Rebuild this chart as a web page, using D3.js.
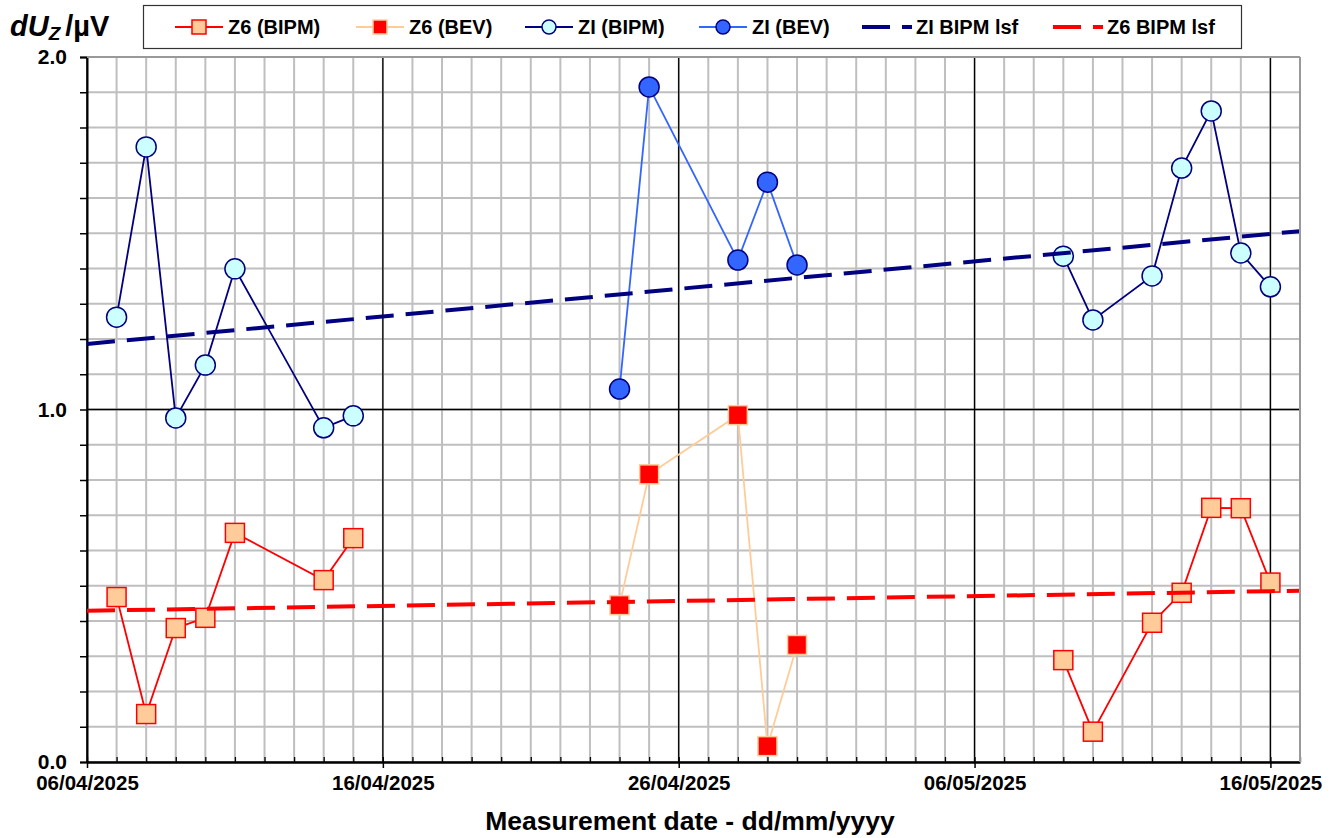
<!DOCTYPE html>
<html>
<head>
<meta charset="utf-8">
<script src="https://cdn.jsdelivr.net/npm/d3@7"></script>
<style>
  body { margin: 0; background: #fff; }
  text { font-family: "Liberation Sans", Arial, sans-serif; font-weight: bold; }
</style>
</head>
<body>
<div class="chart"></div>
<script>
let bipmDates = ['07/04/2025', '08/04/2025', '09/04/2025', '10/04/2025', '11/04/2025', '14/04/2025', '15/04/2025',
                 '09/05/2025', '10/05/2025', '12/05/2025', '13/05/2025', '14/05/2025', '15/05/2025', '16/05/2025']
let z6Bipm = [0.468, 0.136, 0.380, 0.409, 0.650, 0.516, 0.635, 0.289, 0.086, 0.395, 0.480, 0.721, 0.720, 0.509]
let ziBipm = [1.262, 1.745, 0.976, 1.126, 1.399, 0.948, 0.982, 1.435, 1.254, 1.379, 1.685, 1.847, 1.444, 1.348]

let bevDates = ['24/04/2025', '25/04/2025', '28/04/2025', '29/04/2025', '30/04/2025']
let z6Bev = [0.445, 0.816, 0.984, 0.045, 0.332]
let ziBev = [1.058, 1.915, 1.424, 1.645, 1.410]

// least squares fit lines (end points)
let lsfDates = ['06/04/2025', '17/05/2025']
let ziLsf = [1.186, 1.506]
let z6Lsf = [0.429, 0.486]

let xTickLabels = ['06/04/2025', '16/04/2025', '26/04/2025', '06/05/2025', '16/05/2025']
let yTickLabels = [0, 1, 2]

let width = 1342
let height = 838
let plotL = 87, plotR = 1300, plotT = 57, plotB = 762

let parse = d3.utcParse('%d/%m/%Y')

let xScale = d3.scaleUtc()
                .domain([parse('06/04/2025'), parse('17/05/2025')])
                .range([plotL, plotR])

let yScale = d3.scaleLinear()
                .domain([0, 2])
                .range([plotB, plotT])

let svg = d3.select('.chart')
            .append('svg')
            .attr('width', width)
            .attr('height', height)

let days = d3.utcDay.range(xScale.domain()[0], d3.utcDay.offset(xScale.domain()[1], 1))
let majorDays = xTickLabels.map(parse)
let yMinor = d3.range(0, 21).map(d => d / 10)

// minor grid
svg.append('g')
    .selectAll('line')
    .data(days)
    .enter()
    .append('line')
    .attr('x1', d => xScale(d)).attr('x2', d => xScale(d))
    .attr('y1', plotT).attr('y2', plotB)
    .attr('stroke', '#bfbfbf').attr('stroke-width', 2)

svg.append('g')
    .selectAll('line')
    .data(yMinor)
    .enter()
    .append('line')
    .attr('x1', plotL).attr('x2', plotR)
    .attr('y1', d => yScale(d)).attr('y2', d => yScale(d))
    .attr('stroke', '#bfbfbf').attr('stroke-width', 2)

// major grid
svg.append('g')
    .selectAll('line')
    .data(majorDays)
    .enter()
    .append('line')
    .attr('x1', d => xScale(d)).attr('x2', d => xScale(d))
    .attr('y1', plotT).attr('y2', plotB)
    .attr('stroke', '#000').attr('stroke-width', 1.3)

svg.append('line')
    .attr('x1', plotL).attr('x2', plotR)
    .attr('y1', yScale(1)).attr('y2', yScale(1))
    .attr('stroke', '#000').attr('stroke-width', 1.3)

// axes
let yAxis = d3.axisLeft(yScale)
                .tickValues(yMinor)
                .tickSize(7)
                .tickPadding(13)
                .tickFormat(d => yTickLabels.includes(Math.round(d * 10) / 10) ? d3.format('.1f')(d) : '')

let gy = svg.append('g')
    .attr('transform', `translate(${plotL},0)`)
    .call(yAxis)
gy.select('.domain').attr('stroke-width', 2)
gy.selectAll('.tick line').attr('stroke-width', 1.5)
gy.selectAll('text').attr('font-size', 21).attr('fill', '#000')

let xMinorAxis = d3.axisBottom(xScale)
                .tickValues(days)
                .tickSizeInner(-5)
                .tickSizeOuter(0)
                .tickFormat('')

let gxm = svg.append('g')
    .attr('transform', `translate(0,${plotB})`)
    .call(xMinorAxis)
gxm.select('.domain').attr('stroke-width', 2.5)
gxm.selectAll('.tick line').attr('stroke-width', 1.3)

let xAxis = d3.axisBottom(xScale)
                .tickValues(majorDays)
                .tickSizeInner(6)
                .tickSizeOuter(0)
                .tickPadding(7)
                .tickFormat(d3.utcFormat('%d/%m/%Y'))

let gx = svg.append('g')
    .attr('transform', `translate(0,${plotB})`)
    .call(xAxis)
gx.select('.domain').remove()
gx.selectAll('.tick line').attr('stroke-width', 1.5)
gx.selectAll('text').attr('font-size', 20.5).attr('fill', '#000')

// series
let series = [
    { name: 'Z6 (BIPM)', dates: bipmDates, values: z6Bipm, line: '#ff0000', fill: '#ffcc99', stroke: '#ff0000', shape: 'square' },
    { name: 'Z6 (BEV)', dates: bevDates, values: z6Bev, line: '#ffcc99', fill: '#ff0000', stroke: '#ffcc99', shape: 'square' },
    { name: 'ZI (BIPM)', dates: bipmDates, values: ziBipm, line: '#000080', fill: '#ccffff', stroke: '#000080', shape: 'circle' },
    { name: 'ZI (BEV)', dates: bevDates, values: ziBev, line: '#3366ff', fill: '#3366ff', stroke: '#000080', shape: 'circle' }
]
let trends = [
    { name: 'ZI BIPM lsf', values: ziLsf, color: '#000080' },
    { name: 'Z6 BIPM lsf', values: z6Lsf, color: '#ff0000' }
]

let line = d3.line()
            .x(d => xScale(d.date))
            .y(d => yScale(d.value))

function drawMarker(g, shape, fill, stroke) {
    if (shape === 'square') {
        g.append('rect')
            .attr('x', -9.5).attr('y', -9.5)
            .attr('width', 19).attr('height', 19)
            .attr('fill', fill).attr('stroke', stroke).attr('stroke-width', 1.5)
    } else {
        g.append('circle')
            .attr('r', 10)
            .attr('fill', fill).attr('stroke', stroke).attr('stroke-width', 1.5)
    }
}

series.forEach(s => {
    let pts = s.dates.map((d, i) => ({ date: parse(d), value: s.values[i] }))
    // break the line where there is a long gap between measurements
    let runs = [[pts[0]]]
    for (let i = 1; i < pts.length; i++) {
        if (d3.utcDay.count(pts[i - 1].date, pts[i].date) > 7) runs.push([])
        runs[runs.length - 1].push(pts[i])
    }
    runs.forEach(r => {
        svg.append('path')
            .attr('d', line(r))
            .attr('fill', 'none')
            .attr('stroke', s.line)
            .attr('stroke-width', 1.8)
    })
    pts.forEach(p => {
        let g = svg.append('g')
            .attr('transform', `translate(${xScale(p.date)},${yScale(p.value)})`)
        drawMarker(g, s.shape, s.fill, s.stroke)
    })
})

trends.forEach(t => {
    let pts = lsfDates.map((d, i) => ({ date: parse(d), value: t.values[i] }))
    svg.append('path')
        .attr('d', line(pts))
        .attr('fill', 'none')
        .attr('stroke', t.color)
        .attr('stroke-width', 4)
        .attr('stroke-dasharray', '28,12')
})

// plot frame (top and right)
svg.append('line')
    .attr('x1', plotL).attr('x2', plotR).attr('y1', plotT).attr('y2', plotT)
    .attr('stroke', '#999').attr('stroke-width', 2)
svg.append('line')
    .attr('x1', plotR).attr('x2', plotR).attr('y1', plotT).attr('y2', plotB)
    .attr('stroke', '#999').attr('stroke-width', 2)

// legend
let legend = svg.append('g')
legend.append('rect')
    .attr('x', 143.5).attr('y', 5.5)
    .attr('width', 1098).attr('height', 43)
    .attr('fill', '#fff').attr('stroke', '#333').attr('stroke-width', 1.2)

let legendX = [175, 356, 525, 699]
series.forEach((s, i) => {
    let x0 = legendX[i]
    legend.append('line')
        .attr('x1', x0).attr('x2', x0 + 48).attr('y1', 27).attr('y2', 27)
        .attr('stroke', s.line).attr('stroke-width', 1.8)
    let g = legend.append('g').attr('transform', `translate(${x0 + 24},27)`)
    if (s.shape === 'square') {
        g.append('rect').attr('x', -7).attr('y', -7).attr('width', 14).attr('height', 14)
            .attr('fill', s.fill).attr('stroke', s.stroke).attr('stroke-width', 1.5)
    } else {
        g.append('circle').attr('r', 7)
            .attr('fill', s.fill).attr('stroke', s.stroke).attr('stroke-width', 1.5)
    }
    legend.append('text')
        .attr('x', x0 + 53).attr('y', 34)
        .attr('font-size', 20)
        .text(s.name)
})

let trendX = [862, 1053]
trends.forEach((t, i) => {
    let x0 = trendX[i]
    legend.append('line')
        .attr('x1', x0).attr('x2', x0 + 50).attr('y1', 27).attr('y2', 27)
        .attr('stroke', t.color).attr('stroke-width', 4)
        .attr('stroke-dasharray', '28,12')
    legend.append('text')
        .attr('x', x0 + 54).attr('y', 34)
        .attr('font-size', 20)
        .text(t.name)
})

// axis titles
let yTitle = svg.append('text')
    .attr('x', 10).attr('y', 36)
    .attr('font-size', 29)
yTitle.append('tspan').attr('font-style', 'italic').text('dU')
yTitle.append('tspan').attr('font-style', 'italic').attr('font-size', 19).attr('dy', 4).text('Z')
yTitle.append('tspan').attr('dy', -4).attr('dx', 5).text('/µV')

svg.append('text')
    .attr('x', 690).attr('y', 830)
    .attr('text-anchor', 'middle')
    .attr('font-size', 26.5)
    .text('Measurement date - dd/mm/yyyy')
</script>
</body>
</html>
